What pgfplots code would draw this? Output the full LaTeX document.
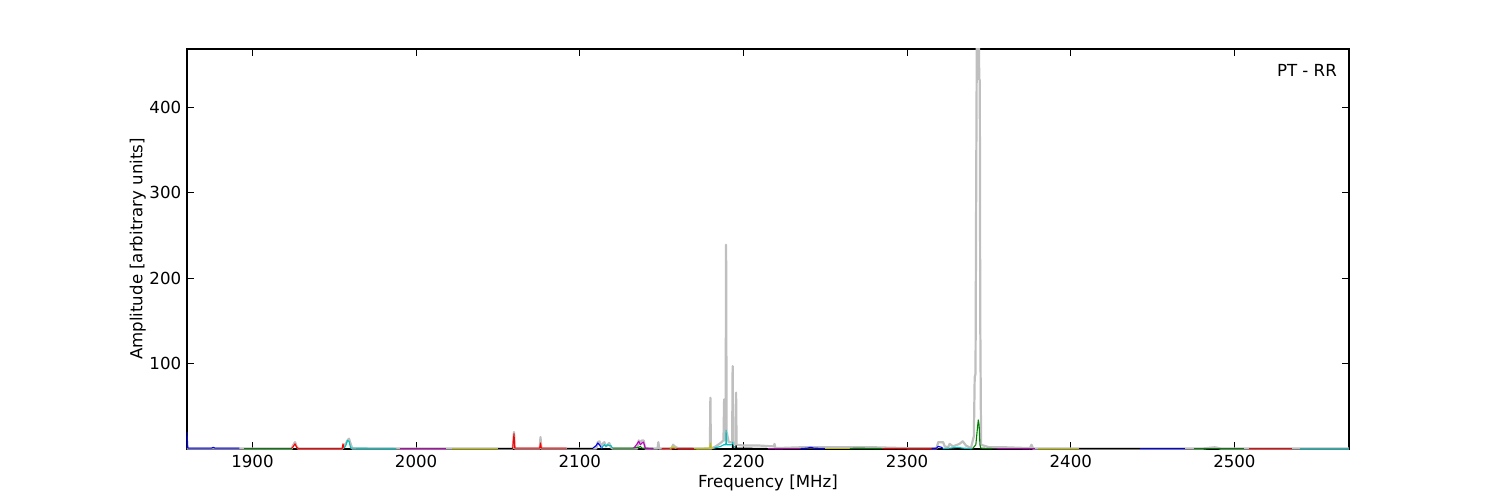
\documentclass[border=0pt]{standalone}
\usepackage{pgfplots}
\pgfplotsset{compat=1.18}
\usepackage{fontspec}
\setmainfont{DejaVu Sans}
\definecolor{mb}{rgb}{0,0,1}
\definecolor{mg}{rgb}{0,0.5,0}
\definecolor{mr}{rgb}{1,0,0}
\definecolor{mc}{rgb}{0,0.75,0.75}
\definecolor{mm}{rgb}{0.75,0,0.75}
\definecolor{my}{rgb}{0.75,0.75,0}
\definecolor{mk}{rgb}{0,0,0}
\definecolor{mgray}{rgb}{0.75,0.75,0.75}
\begin{document}
\fontsize{12}{14}\selectfont
\begin{tikzpicture}
\begin{axis}[
  at={(0,0)}, anchor=south west,
  scale only axis, width=11.62in, height=4in,
  xmin=1860, xmax=2570, ymin=0, ymax=468,
  xtick={1900,2000,2100,2200,2300,2400,2500},
  ytick={100,200,300,400},
  tick align=inside, major tick length=5pt,
  tick style={black, line width=0.6pt},
  axis line style={line width=0.8pt},
  /pgf/number format/assume math mode=true,
  /pgf/number format/1000 sep={},
  ticklabel style={font=\fontsize{12}{14}\selectfont},
  label style={font=\fontsize{12}{14}\selectfont},
  xlabel={Frequency [MHz]},
  ylabel={Amplitude [arbitrary units]},
  xlabel style={yshift=3pt},
  ylabel style={yshift=-5.6pt},
  clip=true,
  every axis plot/.append style={line width=0.8pt, line join=round},
]
% gray max trace
\addplot[mgray, line width=1.6pt] coordinates {
(1860,0.5)(1900,0.5)(1924,0.5)(1925,5)(1926,8)(1927,3)(1928,0.5)(1955,0.5)(1956,5)(1957,6)(1958,10)(1959,12)(1960,6)(1961,0.5)
(2059,0.5)(2059.8,20)(2060.3,0.5)(2075.5,0.5)(2076,14)(2076.5,0.5)
(2110,0.5)(2111,8)(2112,9)(2113,4)(2115,8)(2116,3)(2118,7)(2119,2)(2120,0.5)
(2135,0.5)(2136,10)(2137,8)(2138,10)(2139,10)(2140,0.5)(2147.5,0.5)(2148,8)(2148.5,0.5)
(2156,0.5)(2157,5)(2158,3)(2160,1)(2179.5,0.5)(2179.8,60)(2180.1,0.5)(2183,3)(2186,7)(2187.8,10)(2188.2,58)(2188.6,10)(2189.1,20)(2189.4,239)(2189.7,20)(2191,8)
(2193.1,8)(2193.4,97)(2193.7,8)(2195.2,5)(2195.5,66)(2195.8,5)(2200,4)(2210,4)(2218.5,3)(2219,6)(2219.5,1)(2235,2)(2240,2)(2265,2)(2280,2)(2300,1)
(2318,1)(2319,8)(2322,8)(2323,3)(2325,2)(2326,6)(2328,3)(2332,6)(2334,9)(2336,4)(2339,1)
(2340.8,15)(2341.3,84)(2341.8,88)(2342.2,300)(2342.6,480)(2343,500)(2343.4,500)(2343.8,480)(2344.1,432)(2344.4,432)(2344.7,150)(2345.2,5)(2350,2)(2360,2)(2375,1)(2376,5)(2377,0.5)
(2480,0.5)(2488,2)(2492,0.5)(2570,0.5)
};
% coloured sub-bands
\addplot[mb] coordinates {(1860,20)(1860.5,1)(1875,1)(1876,2)(1877,1)(1892,1)};
\addplot[mg] coordinates {(1895,1)(1910,1)(1924,1)};
\addplot[mr] coordinates {(1924,1)(1925,3)(1926,6)(1927,2)(1928,0.5)(1954.8,0.5)(1955.3,6)(1956,1)};
\addplot[mc] coordinates {(1956,1)(1957,4)(1958,10)(1959,9)(1960,1)(1988,0.5)};
\addplot[mm] coordinates {(1990,1)(2005,1)(2018,1)};
\addplot[my] coordinates {(2022,1)(2035,1)(2050,1)};
\addplot[mk] coordinates {(2050,0.5)(2059,0.5)};
\addplot[mr] coordinates {(2059,0.5)(2059.8,18)(2060.3,1)(2075.5,1)(2076,7)(2076.5,1)(2092,1)};
\addplot[mk] coordinates {(2092,0.5)(2108,0.5)};
\addplot[mb] coordinates {(2108,1)(2110,4)(2111,7)(2112,5)(2113,2)(2114,1)};
\addplot[mc] coordinates {(2113,1)(2115,5)(2116,3)(2117,5)(2118,4)(2119,4)(2120,1)};
\addplot[mg] coordinates {(2120,1)(2132,1)(2136,2)(2137,3)(2138,1)(2145,0.5)};
\addplot[mm] coordinates {(2133,1)(2135,6)(2136,9)(2137,5)(2138,7)(2139,8)(2140,1)(2145,0.5)};
\addplot[mr] coordinates {(2150,0.5)(2155,0.8)(2170,0.5)};
\addplot[my] coordinates {(2155,0.8)(2157,2)(2159,0.8)};
\addplot[my] coordinates {(2170,0.5)(2179.5,1)(2179.8,7)(2180.1,1)(2182,1)};
\addplot[mc] coordinates {(2182,1)(2186,3)(2188,5)(2189.2,5)(2189.4,22)(2189.7,5)(2193,5)(2193.4,8)(2193.8,3)(2195,3)};
\addplot[mk] coordinates {(2192,0.5)(2193.2,0.5)(2193.4,5)(2193.7,1)(2195.3,1)(2195.5,4)(2195.8,1)(2200,1)(2215,0.5)};
\addplot[mm] coordinates {(2215,0.5)(2235,0.5)};
\addplot[mb] coordinates {(2235,0.5)(2239,1)(2241,2)(2243,1)(2250,0.5)};
\addplot[my] coordinates {(2250,0.5)(2265,0.5)};
\addplot[mg] coordinates {(2265,0.5)(2268,1)(2285,0.5)};
\addplot[mr] coordinates {(2285,0.5)(2300,0.8)(2318,0.5)};
\addplot[mb] coordinates {(2315,0.5)(2318,1)(2319,3)(2321,2)(2322,0.5)};
\addplot[mc] coordinates {(2322,0.5)(2326,1)(2331,2)(2334,1)(2340,0.5)};
\addplot[mg] coordinates {(2340,0.5)(2342,5)(2343,25)(2343.5,34)(2344,28)(2344.5,5)(2345,1)(2352,0.5)};
\addplot[mm] coordinates {(2355,0.5)(2378,0.5)};
\addplot[my] coordinates {(2380,0.5)(2405,0.5)};
\addplot[mk] coordinates {(2405,0.5)(2442,0.5)};
\addplot[mb] coordinates {(2442,0.5)(2470,0.5)};
\addplot[mg] coordinates {(2475,0.5)(2506,0.5)};
\addplot[mr] coordinates {(2509,0.5)(2535,0.5)};
\addplot[mc] coordinates {(2540,0.5)(2570,0.5)};
\node[anchor=north east] at (rel axis cs:0.9945,0.975) {PT - RR};
\end{axis}
\path[use as bounding box] (-1.87in,-0.51in) rectangle (13.13in,4.49in);
\end{tikzpicture}
\end{document}
